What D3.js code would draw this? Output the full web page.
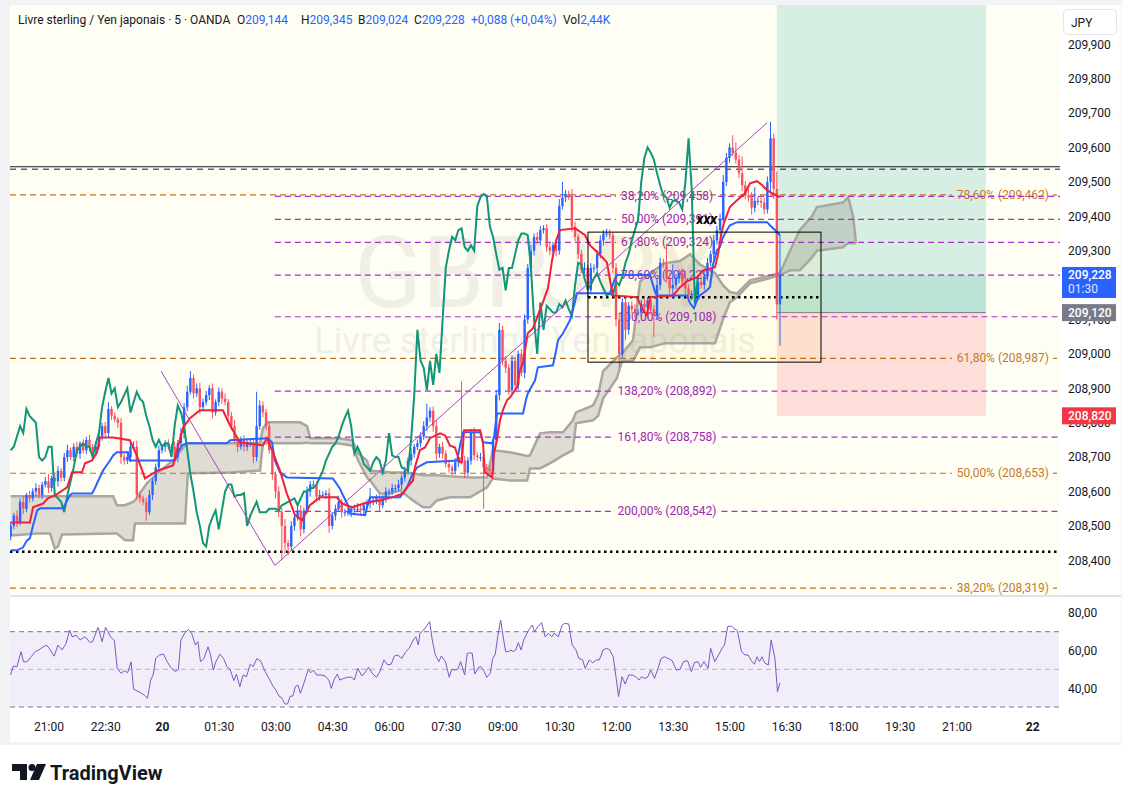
<!DOCTYPE html>
<html lang="fr">
<head>
<meta charset="utf-8">
<script src="https://d3js.org/d3.v7.min.js"></script>
<style type="text/css">
body {
  margin: 0;
  background-color: #ffffff;
  font-family: Roboto, "Noto Sans", sans-serif;
}
</style>
</head>
<body>
<script type="text/javascript">

// ---- data (GBPJPY, 5 min, OANDA) ----
var firstOpen = 208.47;

// close of each 5 min bar, bar 0 = 20:00 on the 19th
var closes = [
  208.50, 208.53, 208.51, 208.57, 208.55, 208.59, 208.58, 208.60, 208.61, 208.59,
  208.62, 208.63, 208.61, 208.64, 208.63, 208.66, 208.64, 208.70, 208.72, 208.70,
  208.73, 208.71, 208.74, 208.72, 208.75, 208.73, 208.72, 208.73, 208.76, 208.79,
  208.77, 208.84, 208.82, 208.81, 208.80, 208.70, 208.69, 208.70, 208.73, 208.73,
  208.59, 208.58, 208.57, 208.54, 208.59, 208.63, 208.67, 208.72, 208.73, 208.74,
  208.73, 208.73, 208.70, 208.74, 208.77, 208.845, 208.89, 208.93, 208.885, 208.90,
  208.845, 208.86, 208.88, 208.90, 208.83, 208.86, 208.89, 208.87, 208.86, 208.82,
  208.79, 208.75, 208.73, 208.75, 208.73, 208.74, 208.74, 208.70, 208.79, 208.85,
  208.83, 208.79, 208.72, 208.65, 208.60, 208.54, 208.50, 208.45, 208.44, 208.50,
  208.525, 208.545, 208.49, 208.545, 208.60, 208.62, 208.62, 208.585, 208.59, 208.59,
  208.595, 208.50, 208.53, 208.55, 208.57, 208.54, 208.54, 208.54, 208.55, 208.55,
  208.55, 208.545, 208.56, 208.565, 208.57, 208.575, 208.58, 208.56, 208.58, 208.60,
  208.60, 208.61, 208.61, 208.62, 208.64, 208.66, 208.69, 208.71, 208.73, 208.74,
  208.76, 208.79, 208.815, 208.835, 208.79, 208.71, 208.73, 208.71, 208.68, 208.67,
  208.66, 208.685, 208.70, 208.69, 208.655, 208.69, 208.77, 208.705, 208.70, 208.70,
  208.67, 208.665, 208.66, 208.75, 208.88, 209.07, 208.98, 208.96, 208.895, 208.98,
  208.91, 209.00, 208.945, 209.10, 209.25, 209.30, 209.34, 209.33, 209.36, 209.365,
  209.31, 209.30, 209.316, 209.30, 209.43, 209.455, 209.465, 209.46, 209.37, 209.34,
  209.29, 209.245, 209.25, 209.185, 209.25, 209.25, 209.29, 209.33, 209.35, 209.35,
  209.345, 209.25, 209.10, 209.00, 209.15, 209.07, 209.14, 209.13, 209.12, 209.12,
  209.145, 209.135, 209.155, 209.13, 209.11, 209.20, 209.265, 209.26, 209.22, 209.19,
  209.20, 209.22, 209.235, 209.21, 209.19, 209.17, 209.175, 209.17, 209.21, 209.20,
  209.225, 209.265, 209.29, 209.33, 209.36, 209.39, 209.50, 209.57, 209.60, 209.585,
  209.565, 209.525, 209.49, 209.46, 209.455, 209.425, 209.445, 209.445, 209.44, 209.42,
  209.50, 209.627, 209.48, 209.144, 209.228
];

// wick lengths above / below the body, in thousandths of a yen
var wickUp = [
  12, 8, 15, 10, 18, 6, 12, 9, 14, 10,   8, 12, 20, 6, 10, 14, 9, 12, 16, 8,
  10, 14, 6, 12, 9, 15, 8, 11, 18, 10,   12, 20, 8, 10, 6, 14, 9, 12, 10, 16,
  18, 10, 8, 12, 15, 9, 11, 14, 8, 10,   12, 9, 16, 10, 14, 12, 18, 20, 10, 14,
  16, 10, 12, 9, 14, 8, 12, 10, 15, 9,   12, 18, 8, 10, 14, 9, 12, 10, 100, 15,
  12, 9, 14, 10, 8, 15, 12, 20, 9, 14,   10, 12, 16, 8, 14, 10, 12, 9, 15, 11,
  9, 14, 10, 12, 18, 8, 10, 14, 9, 12,   16, 10, 8, 12, 40, 9, 11, 14, 10, 12,
  8, 12, 10, 14, 9, 12, 10, 15, 8, 11,   12, 14, 40, 10, 12, 18, 9, 14, 10, 12,
  8, 12, 15, 220, 14, 10, 12, 16, 9, 12, 14, 10, 12, 9, 15, 20, 12, 14, 10, 16,
  12, 10, 14, 15, 12, 18, 10, 14, 12, 9, 12, 16, 10, 14, 20, 45, 12, 10, 20, 14,
  10, 12, 16, 9, 14, 10, 12, 15, 10, 14, 12, 10, 14, 16, 12, 20, 10, 12, 14, 9,
  12, 16, 10, 14, 12, 20, 15, 12, 60, 14, 60, 12, 10, 14, 30, 12, 10, 14, 12, 16,
  12, 14, 10, 16, 12, 18, 20, 14, 12, 36, 30, 14, 50, 12, 20, 15, 40, 12, 18, 14,
  16, 48, 13, 50, 117
];
var wickDn = [
  12, 10, 14, 8, 16, 10, 12, 9, 15, 10,  12, 8, 14, 10, 9, 16, 12, 10, 14, 8,
  12, 10, 15, 9, 12, 14, 10, 16, 8, 12,  10, 14, 12, 9, 16, 20, 12, 10, 14, 9,
  15, 12, 10, 25, 8, 14, 10, 12, 9, 15,  10, 12, 9, 14, 10, 16, 12, 8, 15, 10,
  20, 12, 9, 14, 18, 10, 12, 15, 9, 14,  12, 10, 16, 9, 14, 12, 10, 18, 12, 10,
  14, 12, 10, 16, 20, 15, 100, 30, 25, 12, 14, 10, 20, 12, 9, 15, 10, 14, 12, 9,
  12, 20, 10, 14, 9, 16, 12, 10, 14, 12, 10, 15, 12, 9, 14, 10, 12, 16, 9, 12,
  14, 10, 12, 9, 15, 12, 10, 14, 12, 10, 12, 10, 14, 12, 16, 20, 12, 14, 10, 15,
  12, 10, 14, 12, 16, 10, 12, 14, 10, 12, 120, 12, 14, 10, 12, 15, 12, 16, 14, 10,
  12, 14, 10, 16, 12, 10, 14, 12, 15, 10, 14, 12, 10, 16, 12, 10, 14, 12, 15, 12,
  14, 10, 12, 20, 12, 14, 10, 12, 15, 10, 12, 14, 20, 40, 12, 30, 14, 12, 16, 10,
  12, 14, 10, 16, 60, 12, 14, 10, 12, 15, 30, 12, 14, 10, 16, 12, 14, 20, 12, 10,
  14, 12, 10, 16, 12, 14, 10, 12, 14, 10, 12, 14, 16, 10, 12, 20, 14, 12, 15, 14,
  12, 30, 30, 44, 120
];

// Ichimoku lines as [bar, price]
var tenkan = [
  [0,208.510],[6.1,208.510],[7.1,208.554],[10.3,208.565],[11.8,208.580],[14.1,208.589],
  [17.9,208.612],[19.5,208.656],[22.6,208.656],[23.6,208.682],[25.8,208.690],[27.4,208.714],
  [28.3,208.757],[32.5,208.757],[37.8,208.749],[40,208.705],[42.6,208.638],[46.7,208.661],
  [51.5,208.676],[54.7,208.786],[56.9,208.813],[60,208.836],[67.3,208.836],[69.6,208.792],
  [72.7,208.743],[80,208.734],[81.3,208.755],[82.9,208.720],[85.4,208.661],[87.6,208.594],
  [90.2,208.531],[92.4,208.516],[94.9,208.560],[98.1,208.583],[103.5,208.583],[105.1,208.565],
  [108.3,208.554],[113,208.568],[117.1,208.574],[120.9,208.583],[124.4,208.594],[125.7,208.612],
  [127.6,208.632],[128.2,208.670],[129.8,208.720],[131.4,208.728],[133,208.755],[136.2,208.769],
  [137.8,208.763],[139.3,208.734],[140.9,208.728],[142.5,208.685],[143.1,208.685],[143.8,208.778],
  [148.9,208.778],[149.8,208.743],[150.4,208.656],[152.7,208.641],[153.3,208.711],[154.2,208.749],
  [155.2,208.807],[156.1,208.836],[157.4,208.865],[158.4,208.874],[160.6,208.903],[161.5,208.952],
  [162.5,208.973],[163.4,209.025],[164,209.060],[165.7,209.075],[167.2,209.112],[168.8,209.150],
  [170.4,209.191],[171.7,209.272],[173,209.330],[174.2,209.360],[179,209.365],[182.2,209.345],
  [183.7,209.316],[186,209.296],[187.9,209.278],[189.1,209.266],[190.1,209.214],[191,209.170],
  [198.6,209.165],[200.6,209.127],[201.8,209.112],[202.8,209.165],[210.1,209.170],[212.3,209.194],
  [214.5,209.211],[217.7,209.223],[219.6,209.243],[223.4,209.252],[224.3,209.287],[225.3,209.345],
  [226.2,209.380],[228.1,209.427],[230.4,209.447],[232.9,209.467],[234.5,209.496],[236.7,209.502],
  [238.3,209.491],[239.9,209.476],[241.5,209.467],[244,209.456]
];
var kijun = [
  [0,208.429],[2,208.429],[3.9,208.437],[5.2,208.458],[6.1,208.464],[7.1,208.501],[8.4,208.545],
  [9.3,208.551],[16.6,208.551],[17.9,208.574],[18.8,208.589],[19.5,208.594],[25.8,208.594],
  [26.7,208.609],[27.4,208.624],[29.3,208.661],[31.5,208.690],[32.5,208.705],[33.7,208.714],
  [37.2,208.714],[37.8,208.690],[52.1,208.690],[53.1,208.714],[54.3,208.734],[55.9,208.740],
  [68.6,208.740],[69.6,208.749],[81.3,208.755],[82.9,208.743],[83.8,208.690],[85.4,208.656],
  [87.6,208.641],[102.2,208.638],[104.4,208.609],[105.4,208.589],[107,208.560],[107.6,208.536],
  [112.4,208.531],[113,208.554],[114,208.583],[123.5,208.583],[125.7,208.612],[127.3,208.647],
  [128.9,208.670],[132,208.685],[141.6,208.690],[142.5,208.734],[143.5,208.772],[148.9,208.772],
  [149.8,208.743],[152.7,208.740],[153.3,208.757],[154.2,208.827],[162.5,208.827],[163.4,208.865],
  [164,208.885],[166.3,208.923],[167.2,208.961],[172,208.967],[173,209.010],[173.6,209.040],
  [175.2,209.060],[177.4,209.098],[178.7,209.141],[179.6,209.176],[190.1,209.176],[191.4,209.214],
  [192.3,209.229],[202.8,209.229],[204.4,209.179],[205,209.170],[214.5,209.170],[215.5,209.147],
  [216.7,209.133],[217.7,209.156],[218.6,209.170],[220.8,209.185],[221.8,209.194],[222.7,209.258],
  [224,209.301],[224.9,209.310],[225.9,209.339],[227.2,209.360],[228.1,209.374],[230.4,209.383],
  [239.9,209.383],[240.8,209.374],[242.4,209.360],[244,209.345]
];
// cloud as [bar, upper edge, lower edge]
var cloud = [
  [0,208.586,208.472],[8.4,208.586,208.478],[12.5,208.586,208.478],[14,208.586,208.434],
  [15,208.586,208.440],[16.3,208.586,208.475],[32.5,208.586,208.478],[33.7,208.560,208.478],
  [36.3,208.560,208.458],[38.8,208.570,208.458],[39.4,208.574,208.507],[43.2,208.624,208.507],
  [47.4,208.660,208.507],[51.5,208.690,208.507],[55.3,208.734,208.507],[56.2,208.740,208.653],
  [69.6,208.740,208.655],[79.1,208.740,208.661],[80,208.784,208.740],[81.6,208.801,208.740],
  [91.8,208.801,208.740],[94,208.790,208.742],[95,208.755,208.740],[103.5,208.755,208.740],
  [108.3,208.749,208.734],[110.2,208.711,208.690],[113,208.690,208.641],[114,208.661,208.632],
  [117.1,208.658,208.594],[120.3,208.656,208.594],[123.5,208.655,208.603],[127.6,208.653,208.574],
  [130.8,208.647,208.554],[133,208.647,208.554],[135.2,208.647,208.574],[139.3,208.644,208.583],
  [145.7,208.641,208.583],[151.1,208.641,208.612],[152.9,208.720,208.638],[158.4,208.714,208.632],
  [163.8,208.703,208.632],[164.7,208.705,208.667],[167.9,208.769,208.667],[171,208.772,208.682],
  [175.2,208.772,208.705],[178.3,208.807,208.720],[179.3,208.830,208.798],[184.7,208.850,208.807],
  [186.3,208.880,208.820],[187.9,208.950,208.870],[192.3,208.990,208.930],
  [193.9,209.000,208.980],[197.4,209.040,208.980],[199.6,209.210,209.019],[202.8,209.235,209.019],
  [207.5,209.264,209.031],[212.3,209.270,209.031],[215.5,209.290,209.031],[218.6,209.260,209.031],
  [223.4,209.235,209.031],[225.9,209.200,209.100],[228.1,209.180,209.150],[230.4,209.176,209.165],
  [234.5,209.214,209.205],[238.6,209.223,209.215],[244,209.235,209.229],[247.2,209.300,209.243],
  [250.3,209.360,209.243],[254.1,209.400,209.280],[255.7,209.427,209.300],[264,209.440,209.310],
  [265.6,209.456,209.322],[267.2,209.400,209.322],[268.1,209.322,209.322]
];

// RSI (14) as [bar, value]
var rsi = [
  [0,47],[0.8,51.8],[2,51.4],[3.3,59.4],[4.1,54],[5.2,54],[6.5,56.7],[7.8,59.4],[8.9,60.3],[10.1,61.7],
  [11.4,62.9],[12.2,61.2],[13.8,57],[15,62.9],[16.3,60.3],[17.6,63.8],[18.7,70.9],[19.5,67.3],[20.8,68.1],
  [22,65.6],[23.6,67.3],[25.2,64.2],[26,64.7],[27.7,72.3],[29,64.7],[30.1,72.3],[31.7,67.3],[32.9,65.2],
  [33.8,50.5],[35,47.9],[36.1,49.3],[37.1,48.2],[38.2,54],[39,39.4],[40.7,38.1],[42.3,36.4],[43.4,34.6],
  [44.4,44.3],[45.2,47],[46,55.8],[47.2,57.6],[48.5,58.1],[49.6,54.1],[50.8,51.1],[52.1,48.8],[53.2,50],
  [54,65.6],[55.3,69.5],[56.4,71.2],[57.4,69.1],[58.6,62.9],[59.4,64.7],[60.2,54.1],[61.3,55.8],[62.6,62],
  [63.4,57.6],[64.3,49.6],[65.1,54.1],[66.4,58.1],[67.5,55.8],[68.6,51.4],[69.6,50],[70.8,44],[71.6,47.5],
  [72.7,40.8],[73.7,47],[74.8,46.1],[76,52.8],[76.9,51.4],[78.1,55.8],[79.4,54.1],[80.5,49.6],[81.7,45.8],
  [83,41.7],[84.1,39],[85.1,35.8],[85.9,35],[87,31.6],[87.8,31.6],[88.7,35.8],[89.5,35.8],[90.3,40.8],
  [91.1,41.7],[91.9,37.3],[93,42.6],[94.4,50],[95.2,48.2],[96,49.6],[97.1,47],[98.4,47],[99.7,46.5],
  [100.9,44.3],[101.7,39.9],[102.5,44.3],[103.6,47.5],[104.4,44.3],[105.7,45.2],[106.9,45.8],[108.2,45.8],
  [109,44.3],[110.1,50.5],[111.4,46.5],[112.6,48.8],[113.5,51.1],[114.7,47.9],[116,45.8],[117.1,48.8],
  [118.4,55],[119.6,52.3],[120.7,52.8],[121.7,57.1],[122.8,57.6],[124.1,55.8],[125.3,59.4],[126.4,61.2],
  [127.7,65.6],[128.5,67.3],[129.3,62.9],[129.8,69.1],[131,70.9],[132.1,73.5],[132.9,75.3],[133.7,65.6],
  [134.7,57.6],[135.8,54.1],[136.6,57.1],[137.9,54.1],[139.1,45.8],[139.9,50],[140.7,49.6],[141.8,50],
  [142.7,54.1],[144,47],[144.8,58.5],[145.6,58.8],[146.4,58.5],[147.2,47.5],[148.4,51.1],[149.2,51.4],
  [150,49.6],[151,45.8],[152.1,47.9],[152.9,55.8],[153.7,58.1],[154.5,67.7],[155.4,76.2],[156.2,67.3],
  [157,59.4],[157.8,59.4],[158.6,60.3],[159.4,59.4],[160.2,60.3],[161,64.2],[161.9,60.3],[162.7,65.6],
  [164.3,70.9],[165.4,73.5],[166.2,70],[167.2,72.7],[168.4,74.8],[169.5,67.3],[170.5,69.1],[171.6,67.3],
  [172.4,69.1],[173.7,67.3],[174.9,73.5],[175.7,74.4],[177,74.1],[178.1,62.9],[179.3,60.3],[180.2,55.8],
  [181.4,55],[182.2,50.5],[183.5,55],[184.6,53.5],[185.8,55],[186.7,55],[187.9,60.3],[189,61.2],[190,60.3],
  [191.1,56.7],[192,45.8],[192.8,35.5],[193.9,46.1],[194.9,42.2],[196,47],[197.2,47],[198.5,45.8],
  [199.3,44.3],[200.1,46.1],[200.9,45.2],[202,45.8],[203,49.6],[204.2,45.2],[205.3,50.5],[206.3,55.8],
  [207.4,56.7],[208.5,55.8],[209.8,54.6],[211.1,49.6],[212.3,50],[213.4,54.1],[214.7,54.6],[215.9,48.8],
  [216.8,53.5],[218,54.1],[218.8,51.1],[219.9,54.1],[221.2,50.5],[222,61.2],[223.3,54.1],[224.5,57.6],
  [225.8,61.7],[226.4,62.9],[227.4,72.7],[228.6,73],[229.4,71.8],[230.5,70.5],[231.8,59.4],[232.9,57.6],
  [233.9,57.6],[235.1,54.1],[235.9,52.8],[236.7,56.7],[237.5,54.1],[238.3,56.7],[239.1,53.5],[240.3,52.3],
  [241.2,65.6],[242.4,55.8],[243.2,38.1],[244,42.9]
];

var priceTicks = [209.9, 209.8, 209.7, 209.6, 209.5, 209.4, 209.3, 209.2, 209.1, 209.0, 208.9, 208.8, 208.7, 208.6, 208.5, 208.4];
var rsiTicks = [80, 60, 40];
var timeTicks = [12, 30, 48, 66, 84, 102, 120, 138, 156, 174, 192, 210, 228, 246, 264, 282, 300, 324];
var timeLabels = ["21:00", "22:30", "20", "01:30", "03:00", "04:30", "06:00", "07:30", "09:00", "10:30",
                  "12:00", "13:30", "15:00", "16:30", "18:00", "19:30", "21:00", "22"];

// drawings
var fibRetrace = [["78,60%", 209.462], ["61,80%", 208.987], ["50,00%", 208.653], ["38,20%", 208.319]];
var fibExtension = [["38,20%", 209.458], ["50,00%", 209.391], ["61,80%", 209.324], ["78,60%", 209.229],
                    ["100,00%", 209.108], ["138,20%", 208.892], ["161,80%", 208.758], ["200,00%", 208.542]];
var trendPoints = [[47.7, 208.95], [83.8, 208.385], [239.9, 209.672]];
var blackLevels = [209.544, 209.537];      // solid, dashed
var dottedLevel = 208.425;
var boxBars = [183.1, 257];
var boxPrices = [209.354, 208.976];
var boxDotted = 209.165;
var position = {from: 243, to: 309.3, entry: 209.12, stop: 208.82, target: 210.2};
var lastPrice = 209.228;
var legend = [["Livre sterling / Yen japonais · 5 · OANDA", ""], ["O", "209,144"], ["H", "209,345"],
              ["B", "209,024"], ["C", "209,228"], ["", "+0,088 (+0,04%)"], ["Vol", "2,44K"]];
var legendX = [18, 237, 301, 358, 414, 471, 563];

// ---- layout ----
var width = 1131, height = 802;
var paneL = 10, paneR = 1060, paneT = 5, paneB = 595;
var rsiT = 597, rsiB = 711;

var x = d3.scaleLinear().domain([0, 330]).range([10.66, 10.66 + 330 * 3.153]);
var y = d3.scaleLinear().domain([208.4, 209.9]).range([560.3, 44.3]);
var yR = d3.scaleLinear().domain([30, 70]).range([707, 631.7]);

var fmt3 = function(v) { return d3.format(".3f")(v).replace(".", ","); };
var fmt2 = function(v) { return d3.format(".2f")(v).replace(".", ","); };

var upColor = "#2962ff", downColor = "#f7525f";
var purple = "#9c27b0", orange = "#c2711b", ink = "#131722";

var svg = d3.select("body").append("svg")
  .attr("width", width)
  .attr("height", height)
  .style("font-family", "Roboto, 'Noto Sans', sans-serif");

// frame
svg.append("rect").attr("x", 0).attr("y", 0).attr("width", 1122).attr("height", 745).attr("fill", "#f2f3f5");
svg.append("rect").attr("x", 10).attr("y", 5).attr("width", 1111).attr("height", 737).attr("fill", "#ffffff");
svg.append("rect").attr("x", paneL).attr("y", paneT).attr("width", paneR - paneL).attr("height", paneB - paneT)
  .attr("fill", "#fffef5");
svg.append("line").attr("x1", 10).attr("x2", 1121).attr("y1", 596).attr("y2", 596)
  .attr("stroke", "#e0e3eb").attr("stroke-width", 2);

var defs = svg.append("defs");
defs.append("clipPath").attr("id", "mainClip").append("rect")
  .attr("x", paneL).attr("y", paneT).attr("width", paneR - paneL).attr("height", paneB - paneT);
defs.append("clipPath").attr("id", "rsiClip").append("rect")
  .attr("x", paneL).attr("y", rsiT).attr("width", paneR - paneL).attr("height", rsiB - rsiT);

var main = svg.append("g").attr("clip-path", "url(#mainClip)");

// watermark
main.append("text").attr("x", 535).attr("y", 307).attr("text-anchor", "middle")
  .attr("font-size", 100).attr("fill", "#000").attr("opacity", 0.055).text("GBPJPY");
main.append("text").attr("x", 535).attr("y", 353).attr("text-anchor", "middle")
  .attr("font-size", 36).attr("fill", "#000").attr("opacity", 0.055).text("Livre sterling / Yen japonais");

// long position tool
main.append("rect").attr("x", x(position.from)).attr("width", x(position.to) - x(position.from))
  .attr("y", y(position.target)).attr("height", y(position.entry) - y(position.target))
  .attr("fill", "rgba(8,153,129,0.16)");
main.append("rect").attr("x", x(position.from)).attr("width", x(position.to) - x(position.from))
  .attr("y", y(lastPrice)).attr("height", y(position.entry) - y(lastPrice))
  .attr("fill", "rgba(8,153,129,0.13)");
main.append("rect").attr("x", x(position.from)).attr("width", x(position.to) - x(position.from))
  .attr("y", y(position.entry)).attr("height", y(position.stop) - y(position.entry))
  .attr("fill", "rgba(242,54,69,0.16)");
main.append("line").attr("x1", x(position.from)).attr("x2", x(position.to))
  .attr("y1", y(position.entry)).attr("y2", y(position.entry)).attr("stroke", "#787b86");

// rectangle fill
main.append("rect").attr("x", x(boxBars[0])).attr("width", x(boxBars[1]) - x(boxBars[0]))
  .attr("y", y(boxPrices[0])).attr("height", y(boxPrices[1]) - y(boxPrices[0]))
  .attr("fill", "rgba(255,235,59,0.07)");

// cloud
main.append("path").datum(cloud)
  .attr("d", d3.area().x(function(d) { return x(d[0]); }).y0(function(d) { return y(d[2]); }).y1(function(d) { return y(d[1]); }))
  .attr("fill", "rgba(120,118,105,0.24)");
[1, 2].forEach(function(k) {
  main.append("path").datum(cloud)
    .attr("d", d3.line().x(function(d) { return x(d[0]); }).y(function(d) { return y(d[k]); }))
    .attr("fill", "none").attr("stroke", "#a8a7a2").attr("stroke-width", 2.5);
});

// black level lines
main.append("line").attr("x1", paneL).attr("x2", paneR).attr("y1", y(blackLevels[0])).attr("y2", y(blackLevels[0]))
  .attr("stroke", ink).attr("stroke-width", 1);
main.append("line").attr("x1", paneL).attr("x2", paneR).attr("y1", y(blackLevels[1])).attr("y2", y(blackLevels[1]))
  .attr("stroke", ink).attr("stroke-width", 1).attr("stroke-dasharray", "6,5");
main.append("line").attr("x1", paneL).attr("x2", paneR).attr("y1", y(dottedLevel)).attr("y2", y(dottedLevel))
  .attr("stroke", "#000").attr("stroke-width", 2.5).attr("stroke-dasharray", "2.5,3.5");
main.append("line").attr("x1", x(boxBars[0])).attr("x2", x(boxBars[1])).attr("y1", y(boxDotted)).attr("y2", y(boxDotted))
  .attr("stroke", "#000").attr("stroke-width", 2.5).attr("stroke-dasharray", "2.5,3.5");

// fib retracement (orange), label at right end
fibRetrace.forEach(function(f) {
  var yy = y(f[1]);
  var t = main.append("text").attr("x", 1049).attr("y", yy + 4).attr("text-anchor", "end")
    .attr("font-size", 12).attr("fill", "#c47a2b").text(f[0] + " (" + fmt3(f[1]) + ")");
  var w = t.node().getComputedTextLength();
  main.append("line").attr("x1", paneL).attr("x2", 1049 - w - 5).attr("y1", yy).attr("y2", yy)
    .attr("stroke", orange).attr("stroke-width", 1.2).attr("stroke-dasharray", "6,4");
  main.append("line").attr("x1", 1053).attr("x2", 1057).attr("y1", yy).attr("y2", yy)
    .attr("stroke", orange).attr("stroke-width", 1.2);
});

// trend-based fib extension (purple), label in the middle
fibExtension.forEach(function(f) {
  var yy = y(f[1]);
  var t = main.append("text").attr("x", 667).attr("y", yy + 4).attr("text-anchor", "middle")
    .attr("font-size", 12).attr("fill", purple).text(f[0] + " (" + fmt3(f[1]) + ")");
  var w = t.node().getComputedTextLength();
  main.append("line").attr("x1", x(trendPoints[1][0])).attr("x2", 667 - w / 2 - 5).attr("y1", yy).attr("y2", yy)
    .attr("stroke", "#ab2fc6").attr("stroke-width", 1.2).attr("stroke-dasharray", "6,4");
  main.append("line").attr("x1", 667 + w / 2 + 5).attr("x2", paneR).attr("y1", yy).attr("y2", yy)
    .attr("stroke", "#ab2fc6").attr("stroke-width", 1.2).attr("stroke-dasharray", "6,4");
});

// candles
var bars = closes.map(function(c, i) {
  var o = i === 0 ? firstOpen : closes[i - 1];
  return {i: i, o: o, c: c,
          h: Math.max(o, c) + wickUp[i] / 1000,
          l: Math.min(o, c) - wickDn[i] / 1000};
});
var candle = main.append("g").selectAll("g").data(bars).enter().append("g");
candle.append("line")
  .attr("x1", function(d) { return x(d.i); }).attr("x2", function(d) { return x(d.i); })
  .attr("y1", function(d) { return y(d.h); }).attr("y2", function(d) { return y(d.l); })
  .attr("stroke", function(d) { return d.c >= d.o ? upColor : downColor; }).attr("stroke-width", 1);
candle.append("rect")
  .attr("x", function(d) { return x(d.i) - 1.2; }).attr("width", 2.4)
  .attr("y", function(d) { return y(Math.max(d.o, d.c)); })
  .attr("height", function(d) { return Math.max(1, Math.abs(y(d.o) - y(d.c))); })
  .attr("fill", function(d) { return d.c >= d.o ? upColor : downColor; });

// ichimoku lines
var pairLine = d3.line().x(function(d) { return x(d[0]); }).y(function(d) { return y(d[1]); });
main.append("path").datum(closes.slice(26).map(function(c, k) { return [k, c]; }))
  .attr("d", pairLine).attr("fill", "none").attr("stroke", "#0f9678").attr("stroke-width", 2);
main.append("path").datum(kijun).attr("d", pairLine)
  .attr("fill", "none").attr("stroke", "#2962ff").attr("stroke-width", 2);
main.append("path").datum(tenkan).attr("d", pairLine)
  .attr("fill", "none").attr("stroke", "#f0203a").attr("stroke-width", 2);

// trend lines, rectangle border, note
main.append("path").datum(trendPoints).attr("d", pairLine)
  .attr("fill", "none").attr("stroke", "#a844c4").attr("stroke-width", 1);
main.append("rect").attr("x", x(boxBars[0])).attr("width", x(boxBars[1]) - x(boxBars[0]))
  .attr("y", y(boxPrices[0])).attr("height", y(boxPrices[1]) - y(boxPrices[0]))
  .attr("fill", "none").attr("stroke", "#000").attr("stroke-width", 1);
main.append("text").attr("x", x(220.8)).attr("y", y(209.391) + 5).attr("text-anchor", "middle")
  .attr("font-size", 14).attr("font-weight", "bold").attr("font-style", "italic").attr("fill", "#000").text("xxx");

// ---- RSI pane ----
var rsiG = svg.append("g");
rsiG.append("rect").attr("x", paneL).attr("width", paneR - paneL - 1).attr("y", yR(70)).attr("height", yR(30) - yR(70))
  .attr("fill", "rgba(126,87,194,0.1)");
[[70, "#787b86"], [50, "#b2b5be"], [30, "#787b86"]].forEach(function(l) {
  rsiG.append("line").attr("x1", paneL).attr("x2", paneR - 1).attr("y1", yR(l[0])).attr("y2", yR(l[0]))
    .attr("stroke", l[1]).attr("stroke-dasharray", "5,4");
});
rsiG.append("path").datum(rsi).attr("clip-path", "url(#rsiClip)")
  .attr("d", d3.line().x(function(d) { return x(d[0]); }).y(function(d) { return yR(d[1]); }))
  .attr("fill", "none").attr("stroke", "#7e57c2").attr("stroke-width", 1);

// ---- axes ----
var priceAxis = svg.append("g").attr("transform", "translate(" + paneR + ",0)")
  .call(d3.axisRight(y).tickValues(priceTicks).tickSize(0).tickPadding(8).tickFormat(fmt3));
priceAxis.select(".domain").remove();
priceAxis.selectAll("text").attr("font-size", 12).attr("fill", ink).style("font-family", "Roboto, sans-serif");

var rsiAxis = svg.append("g").attr("transform", "translate(" + paneR + ",0)")
  .call(d3.axisRight(yR).tickValues(rsiTicks).tickSize(0).tickPadding(8).tickFormat(fmt2));
rsiAxis.select(".domain").remove();
rsiAxis.selectAll("text").attr("font-size", 12).attr("fill", ink).style("font-family", "Roboto, sans-serif");

var timeAxis = svg.append("g").attr("transform", "translate(0,719)")
  .call(d3.axisBottom(x).tickValues(timeTicks).tickSize(0).tickPadding(3)
    .tickFormat(function(d, i) { return timeLabels[i]; }));
timeAxis.select(".domain").remove();
timeAxis.selectAll("text").attr("font-size", 12).attr("fill", ink).style("font-family", "Roboto, sans-serif")
  .attr("font-weight", function(d, i) { return timeLabels[i].length === 2 ? "bold" : "normal"; });

// price badges on the axis
function badge(price, fill, lines, h) {
  var yy = y(price);
  svg.append("rect").attr("x", 1062).attr("y", yy - 8.5).attr("width", 54).attr("height", h).attr("fill", fill);
  lines.forEach(function(t, k) {
    svg.append("text").attr("x", 1068).attr("y", yy + 4 + k * 14).attr("font-size", 12)
      .attr("fill", k === 0 ? "#fff" : "#dfe6ff").attr("font-weight", k === 0 ? 500 : "normal").text(t);
  });
}
badge(lastPrice, "#2962ff", [fmt3(lastPrice), "01:30"], 31);
badge(position.entry, "#787b86", [fmt3(position.entry)], 17);
badge(position.stop, "#f23645", [fmt3(position.stop)], 17);

// JPY button
svg.append("rect").attr("x", 1063.5).attr("y", 9.5).attr("width", 53).attr("height", 25).attr("rx", 4)
  .attr("fill", "#fff").attr("stroke", "#e0e3eb");
svg.append("text").attr("x", 1071).attr("y", 27).attr("font-size", 12).attr("fill", ink).text("JPY");

// header legend
legend.forEach(function(p, k) {
  var t = svg.append("text").attr("x", legendX[k]).attr("y", 24).attr("font-size", 12);
  t.append("tspan").attr("fill", ink).text(p[0]);
  t.append("tspan").attr("fill", "#2962ff").text(p[1]);
});

// TradingView logo
var logo = svg.append("g").attr("fill", ink);
logo.append("path").attr("d", "M12 764 h15 v16 h-7 v-9 h-8 z");
logo.append("circle").attr("cx", 32).attr("cy", 767.5).attr("r", 3.5);
logo.append("path").attr("d", "M37 764 h9 l-7 16 h-9 z");
svg.append("text").attr("x", 50).attr("y", 780).attr("font-size", 20).attr("font-weight", "bold")
  .attr("fill", ink).text("TradingView");

</script>
</body>
</html>
